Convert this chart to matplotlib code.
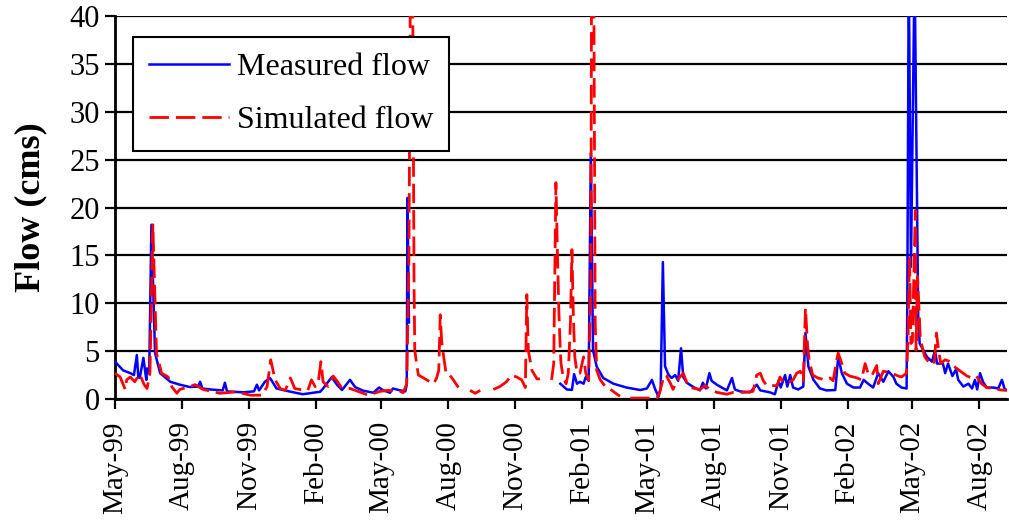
import numpy as np
import pandas as pd
import matplotlib
matplotlib.use("Agg")
import matplotlib.pyplot as plt
import matplotlib.dates as mdates

plt.rcParams['font.family'] = ['Liberation Serif', 'DejaVu Serif']

start_date = "1999-05-01"
end_date = "2002-09-08"

# Measured flow: day offset from start_date, flow (cms); NaN = missing record
measured_days = [0, 11, 21, 26, 30, 32, 34, 39, 43, 44, 47, 50, 55, 62, 76, 89, 103, 114, 117, 120,
                 131, 148, 151, 154, 176, 191, 195, 198, 206, 213, 222, 241, 258, 282, 286, 291, 298,
                 305, 312, 323, 330, 341, 355, 363, 369, 378, 382, 392, 399, 401, 402, 404, 405,
                 612, 621, 628, 631, 635, 639, 644, 647, 651, 654, 657, 662, 671, 685, 703, 722,
                 731, 738, 742, 747, 750, 753, 756, 761, 765, 770, 774, 778, 781, 786, 795, 804,
                 808, 812, 817, 820, 827, 834, 841, 848, 852, 859, 873, 882, 887, 900, 907, 912,
                 915, 921, 924, 928, 932, 939, 946, 949, 953, 960, 969, 978, 990, 994, 999, 1006,
                 1015, 1024, 1029, 1035, 1042, 1049, 1056, 1063, 1070, 1074, 1081, 1088, 1089,
                 1091, 1094, 1099, 1103, 1104, 1106, 1111, 1116, 1123, 1127, 1130, 1138, 1141,
                 1145, 1151, 1156, 1159, 1166, 1173, 1178, 1182, 1185, 1189, 1193, 1198, 1207,
                 1214, 1219, 1223, 1229]
measured_flow = [3.9, 3.0, 2.7, 2.5, 4.6, 2.3, 2.2, 4.3, 2.0, 3.2, 2.7, 18.2, 4.8, 2.7, 1.8, 1.5,
                 1.25, 1.3, 1.8, 1.1, 1.0, 0.9, 1.7, 0.8, 0.7, 0.8, 1.5, 0.9, 1.8, 2.2, 1.1, 0.77,
                 0.5, 0.76, 1.1, 1.6, 2.3, 1.5, 0.94, 2.0, 1.25, 0.87, 0.66, 1.2, 0.9, 0.66, 1.1,
                 0.9, 0.8, 1.5, 21.0, 8.0, np.nan,
                 1.6, 1.0, 0.95, 2.6, 1.6, 1.8, 1.6, 2.3, 1.9, 25.7, 5.1, 3.4, 2.2, 1.6, 1.2, 0.94,
                 1.1, 2.0, 1.1, 0.24, 1.1, 14.3, 3.4, 2.5, 2.2, 2.5, 1.9, 5.3, 2.3, 1.7, 1.25, 0.9,
                 1.7, 1.1, 2.7, 1.9, 1.5, 1.2, 0.9, 2.2, 1.0, 0.8, 0.7, 1.5, 0.9, 0.7, 0.5, 1.9,
                 1.2, 2.5, 1.3, 2.5, 1.2, 1.0, 1.3, 6.9, 3.4, 2.0, 1.1, 0.9, 0.94, 4.4, 2.7, 1.6,
                 1.2, 1.2, 2.0, 1.6, 1.2, 2.7, 1.8, 2.9, 2.3, 1.6, 1.2, 1.1, 10.2,
                 45.0, 13.8, 45.0, 15.9, 8.6, 5.8, 5.1, 4.4, 3.9, 5.1, 3.7, 3.7, 2.7,
                 3.7, 2.4, 3.1, 2.0, 1.3, 1.6, 1.1, 2.0, 1.0, 2.7, 1.8, 1.2, 1.2,
                 1.1, 2.0, 1.0, 0.9]

# Simulated flow: day offset from start_date, flow (cms); NaN = no output
simulated_days = [0, 7, 14, 16, 21, 27, 34, 40, 44, 48, 52, 57, 64, 73, 78, 85, 89, 103, 110, 121,
                  144, 167, 186, 202, 209, 214, 220, 227, 234, 241, 247, 254, 265, 270, 275, 279,
                  283, 286, 293, 300, 305, 312, 323, 334, 348, 364, 375, 392, 396, 401, 404, 406,
                  409, 411, 412, 415, 417, 424, 433, 438, 442, 445, 447, 449, 451, 455, 458, 465,
                  472, 480, 488, 495, 502, 510, 520, 529, 538, 545, 552, 559, 564, 566, 568, 573,
                  580, 584, 592, 600, 603, 606, 608, 610, 612, 613, 616, 620, 623, 626, 628, 630,
                  632, 635, 639, 644, 647, 651, 654, 655, 658, 660, 662, 667, 674, 683, 690, 694,
                  700, 708, 731, 745, 749, 752, 755, 758, 763, 767, 772, 781, 786, 790, 804, 811,
                  816, 827, 841, 850, 866, 877, 882, 887, 891, 896, 910, 914, 918, 923, 932, 937,
                  942, 946, 949, 952, 954, 959, 966, 976, 983, 987, 992, 994, 999, 1003, 1010,
                  1020, 1026, 1031, 1035, 1040, 1047, 1049, 1056, 1063, 1070, 1077, 1081, 1088,
                  1090, 1092, 1094, 1096, 1100, 1101, 1103, 1107, 1113, 1120, 1126, 1129, 1132,
                  1135, 1141, 1148, 1155, 1162, 1171, 1178, 1184, 1191, 1198, 1207, 1217, 1226]
simulated_flow = [2.7, 2.3, 1.0, 2.0, 2.3, 1.8, 2.6, 1.5, 1.1, 2.7, 18.2, 4.8, 2.7, 2.3, 1.3, 0.6,
                  1.0, 1.3, 1.5, 1.0, 0.6, 0.75, 0.4, 0.4, 1.3, 4.1, 2.0, 1.1, 0.9, 2.2, 1.1, 1.0,
                  0.9, 2.0, 1.3, 1.6, 3.9, 1.8, 1.3, 2.4, 1.9, 1.1, 1.1, 0.8, 0.4, 0.8, 0.9, 0.8,
                  0.66, 1.6, 15.0, 45.0, 45.0, 12.0, 5.1, 3.4, 2.5, 2.2, 1.8, 1.6, 2.2, 3.0, 8.8,
                  6.0, 4.8, 2.7, 2.7, 2.0, 1.2, np.nan, 0.9, 0.6, 0.9, np.nan, 1.0, 1.3, 1.8, 2.5,
                  2.3, 2.0, 1.2, 10.9, 5.1, 3.0, 2.1, 2.1, np.nan, 2.0, 3.7, 22.6, 15.6, 9.3, 5.1,
                  3.7, 2.3, 1.6, 2.7, 8.0, 15.6, 8.6, 4.4, 2.7, 2.7, 4.4, 2.7, 2.0, 12.0, 45.0,
                  45.0, 7.9, 3.0, 2.0, 1.3, 0.9, 0.5, 0.3, np.nan, 0.1, 0.1, 0.1, 0.8, 1.7, 2.5,
                  2.4, 1.7, 1.0, 1.9, 2.7, 1.7, 1.2, 1.0, 1.4, 1.1, 0.7, 0.5, 0.7, 0.7, 0.8, 2.5,
                  2.7, 1.9, 1.4, 1.4, 2.3, 1.8, 1.6, 2.0, 2.7, 2.9, 1.9, 9.5, 5.5, 4.1, 2.5, 2.2,
                  2.0, 2.2, 1.9, 4.1, 4.8, 3.7, 2.7, 2.4, 2.2, 2.0, 3.7, 2.7, 2.4, 3.5, 1.6, 2.9,
                  2.8, 2.6, 2.4, 2.3, 2.7, 6.2, 14.9, 5.8, 6.0, 19.7, 5.1, 12.8, 6.2, 4.4, 3.7,
                  3.7, 6.9, 5.1, 3.7, 4.1, 3.9, 3.3, 2.9, 2.4, 2.2, 2.4, 1.6, 1.2, 1.1, 0.95, 0.9]

y_ticks = [0, 5, 10, 15, 20, 25, 30, 35, 40]

t0 = pd.Timestamp(start_date)
m_dates = t0 + pd.to_timedelta(measured_days, unit="D")
s_dates = t0 + pd.to_timedelta(simulated_days, unit="D")

fig = plt.figure(figsize=(10.09, 5.29), dpi=100)
ax = fig.add_axes([0.114, 0.2457, 0.884, 0.7241])

ax.set_ylim(0, 40)
ax.set_yticks(y_ticks)
ax.yaxis.grid(True, color="black", linewidth=1.6)
ax.set_axisbelow(True)

ax.plot(m_dates, measured_flow, color="#0000ff", linewidth=1.8, label="Measured flow", zorder=3)
ax.plot(s_dates, simulated_flow, color="#ff0000", linewidth=2.0, dashes=(7, 2.5),
        label="Simulated flow", zorder=4)

ax.set_xlim(pd.Timestamp(start_date), pd.Timestamp(end_date))
ax.xaxis.set_major_locator(mdates.MonthLocator(bymonth=[2, 5, 8, 11]))
ax.xaxis.set_major_formatter(mdates.DateFormatter("%b-%y"))

for lab in ax.get_xticklabels():
    lab.set_rotation(90)

ax.tick_params(axis="both", direction="out", length=7, width=1.6, colors="black")
ax.tick_params(axis="x", pad=9, labelsize=21)
ax.tick_params(axis="y", pad=4, labelsize=22)

for side in ["top", "right"]:
    ax.spines[side].set_visible(False)
for side in ["left", "bottom"]:
    ax.spines[side].set_linewidth(2.0)
    ax.spines[side].set_color("black")

ax.set_ylabel("Flow (cms)", fontsize=26, fontweight="bold", labelpad=16)

leg = ax.legend(loc="upper left", bbox_to_anchor=(0.020, 0.945), borderaxespad=0,
                fontsize=23, frameon=True, fancybox=False, framealpha=1,
                edgecolor="black", handlelength=2.5, handletextpad=0.25,
                labelspacing=0.72, borderpad=0.5)
leg.get_frame().set_linewidth(1.5)

fig.savefig("out.png", dpi=100)
